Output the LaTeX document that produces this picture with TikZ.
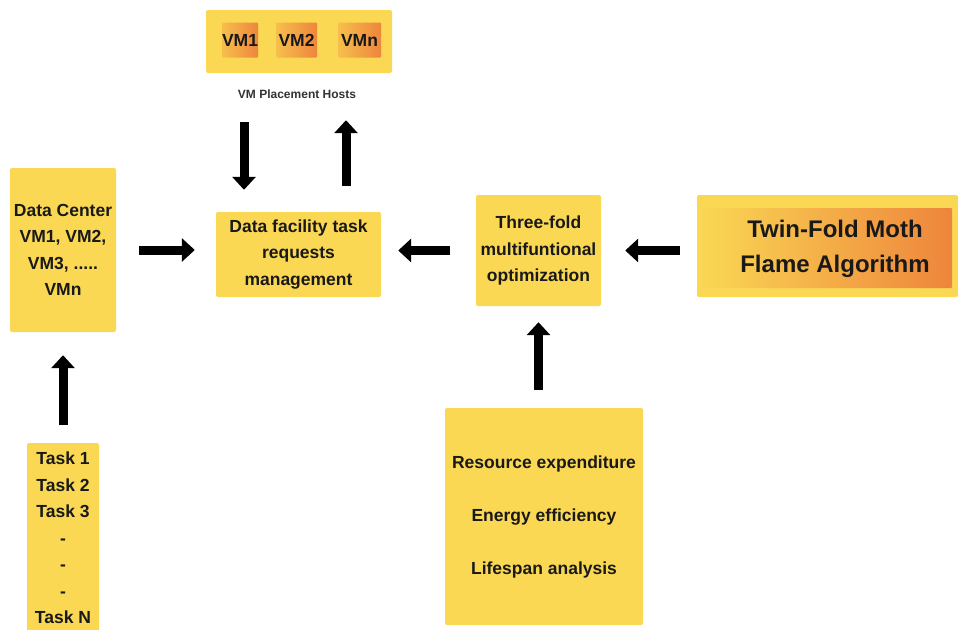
\documentclass[tikz,border=0pt]{standalone}
\usepackage{fontspec}
\setmainfont{Liberation Sans}
\usetikzlibrary{arrows.meta}
\definecolor{boxyellow}{RGB}{250,216,84}
\definecolor{boxorange}{RGB}{238,133,60}

\begin{document}
\begin{tikzpicture}[x=1pt, y=-1pt,
  box/.style={fill=boxyellow, rounded corners=2pt, inner sep=0pt, align=center, text=black!90, font=\bfseries\fontsize{17.5}{26.5}\selectfont},
  vmbox/.style={left color=boxyellow!70!boxorange, right color=boxorange, rounded corners=1pt, inner sep=0pt, minimum height=35pt, text=black!90, font=\bfseries\fontsize{17.5}{20}\selectfont},
  blockarrow/.style={line width=9pt, -{Triangle[width=23pt,length=13pt]}}]
\useasboundingbox (0,0) rectangle (958,629);

% top: placement hosts
\node[box, minimum width=186pt, minimum height=63pt] (hosts) at (299,41.5) {};
\node[vmbox, minimum width=36pt] (vm1) at (240,40) {VM1};
\node[vmbox, minimum width=41pt] (vm2) at (296.5,40) {VM2};
\node[vmbox, minimum width=43pt] (vmn) at (359.5,40) {VMn};
\node[text=black!80, font=\bfseries\fontsize{12}{14}\selectfont] (hostslabel) at (297,94) {VM Placement Hosts};

% middle row
\node[box, minimum width=106pt, minimum height=164pt] (dc) at (63,250) {Data Center\\VM1, VM2,\\VM3, .....\\VMn};
\node[box, minimum width=165pt, minimum height=85pt] (df) at (298.5,254.5) {Data facility task\\requests\\management};
\node[box, minimum width=125pt, minimum height=111pt] (tf) at (538.5,250.5) {Three-fold\\multifuntional\\optimization};
\node[box, minimum width=261pt, minimum height=102pt] (twin) at (827.5,246) {};
\node[left color=boxyellow, right color=boxorange, rounded corners=1pt, minimum width=254pt, minimum height=80pt] (twinshade) at (825,248) {};
\node[align=center, text=black!90, font=\bfseries\fontsize{24}{35}\selectfont] (twinlabel) at (835,249) {Twin-Fold Moth\\Flame Algorithm};

% bottom
\node[box, minimum width=198pt, minimum height=217pt, font=\bfseries\fontsize{17.5}{53}\selectfont] (res) at (544,516.5) {Resource expenditure\\Energy efficiency\\Lifespan analysis};
\node[box, minimum width=72pt, minimum height=190pt] (tasks) at (63,538) {Task 1\\Task 2\\Task 3\\-\\-\\-\\Task N};

% arrows
\coordinate (downtop) at ([xshift=-55pt]hosts.south);
\coordinate (uptop) at ([xshift=47pt]hosts.south);
\draw[blockarrow, shorten <=49pt, shorten >=22pt] (downtop) -- (downtop |- df.north);
\draw[blockarrow, shorten <=26pt, shorten >=47pt] (uptop |- df.north) -- (uptop);
\draw[blockarrow, shorten <=23pt, shorten >=21pt] (dc.east) -- (dc.east -| df.west);
\draw[blockarrow, shorten <=26pt, shorten >=17pt] (tf.west) -- (tf.west -| df.east);
\draw[blockarrow, shorten <=17pt, shorten >=24pt] (tf.east -| twin.west) -- (tf.east);
\draw[blockarrow, shorten <=18pt, shorten >=16pt] (tf.south |- res.north) -- (tf.south);
\draw[blockarrow, shorten <=18pt, shorten >=23pt] (tasks.north) -- (dc.south);
\end{tikzpicture}
\end{document}
